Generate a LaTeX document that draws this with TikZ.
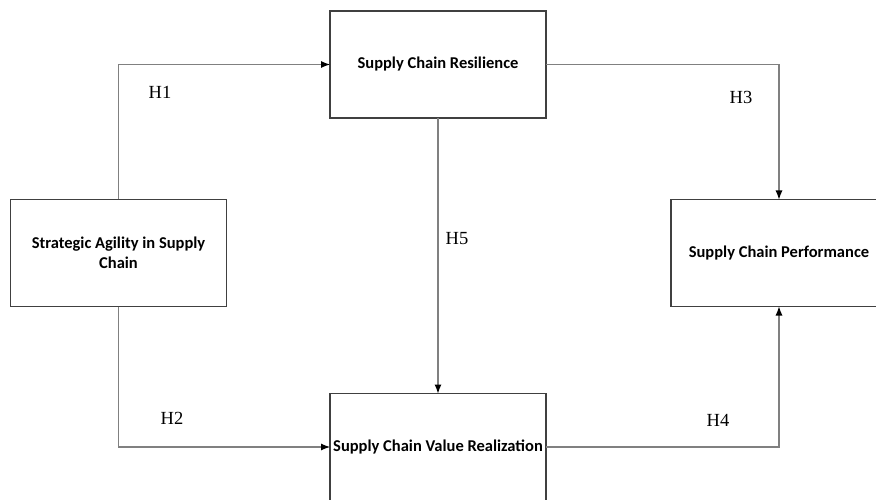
\documentclass[tikz,border=0pt]{standalone}
\usepackage{fontspec}
\setmainfont{Liberation Serif}
\newfontfamily\boxfont{Carlito}
\usetikzlibrary{arrows.meta}

\tikzset{
	construct/.style={draw=black!75, line width=1.1pt, minimum width=216pt, minimum height=107pt,
		inner sep=0pt, outer sep=0pt, align=center, font=\boxfont\bfseries\fontsize{16.5}{20}\selectfont},
	path/.style={draw=black!50, line width=1.1pt, -{Latex[color=black,length=9pt,width=7pt]}},
	hyp/.style={font=\fontsize{18.5}{22}\selectfont, inner sep=0pt}
}

\begin{document}
\begin{tikzpicture}[x=1pt,y=-1pt]
	\useasboundingbox (0,0) rectangle (876,500);

	% constructs
	\node[construct] (agility) at (118.5,253) {Strategic Agility in Supply\\Chain};
	\node[construct] (resilience) at (438,64.5) {Supply Chain Resilience};
	\node[construct] (performance) at (779,253) {Supply Chain Performance};
	\node[construct] (value) at (438,447) {Supply Chain Value Realization};

	% paths
	\draw[path] (agility.north) |- (resilience.west);
	\draw[path] (agility.south) |- (value.west);
	\draw[path] (resilience.east) -| (performance.north);
	\draw[path] (value.east) -| (performance.south);
	\draw[path] (resilience.south) -- (value.north);

	% hypotheses
	\node[hyp] (h1) at (160,92) {H1};
	\node[hyp] (h2) at (172,418) {H2};
	\node[hyp] (h3) at (741,97) {H3};
	\node[hyp] (h4) at (718,420) {H4};
	\node[hyp] (h5) at (457,239) {H5};
\end{tikzpicture}
\end{document}
